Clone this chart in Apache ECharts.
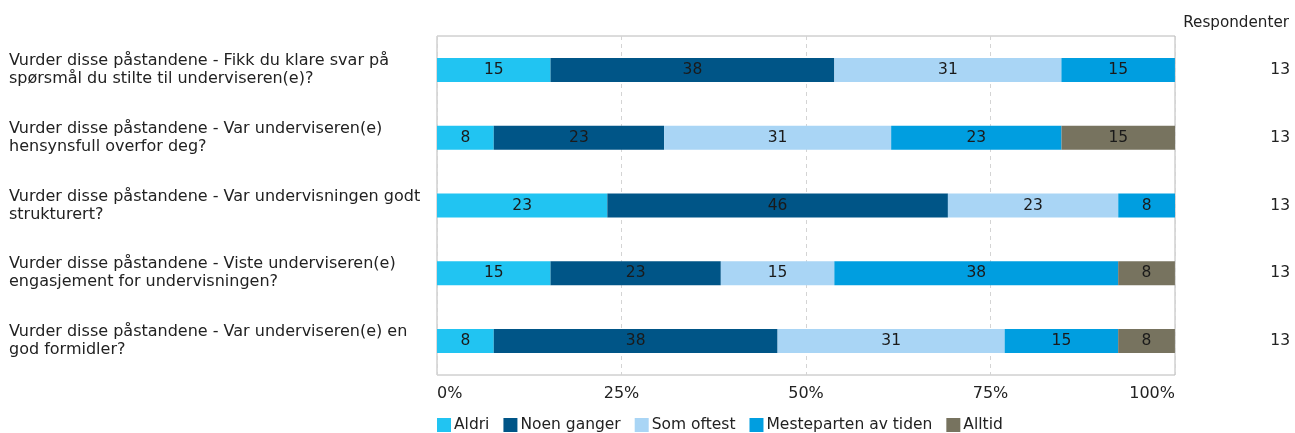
<!DOCTYPE html>
<html><head><meta charset="utf-8">
<script src="https://cdn.jsdelivr.net/npm/echarts@6/dist/echarts.min.js"></script>
<style>html,body{margin:0;padding:0;background:#fff}#c{width:1295px;height:433px}</style>
</head><body><div id="c"></div>
<script>
const categories = [
  "Vurder disse påstandene - Fikk du klare svar på\nspørsmål du stilte til underviseren(e)?",
  "Vurder disse påstandene - Var underviseren(e)\nhensynsfull overfor deg?",
  "Vurder disse påstandene - Var undervisningen godt\nstrukturert?",
  "Vurder disse påstandene - Viste underviseren(e)\nengasjement for undervisningen?",
  "Vurder disse påstandene - Var underviseren(e) en\ngod formidler?"
];
const respondents = [13, 13, 13, 13, 13];
const seriesNames = ["Aldri", "Noen ganger", "Som oftest", "Mesteparten av tiden", "Alltid"];
const aldri       = [15.38, 7.69, 23.08, 15.38, 7.69];
const noenGanger  = [38.46, 23.08, 46.15, 23.08, 38.46];
const somOftest   = [30.77, 30.77, 23.08, 15.38, 30.77];
const mesteparten = [15.38, 23.08, 7.69, 38.46, 15.38];
const alltid      = [null, 15.38, null, 7.69, 7.69];
const xTicks = ["0%", "25%", "50%", "75%", "100%"];

const colors = ["#21c4f2", "#005587", "#a9d5f5", "#009ee0", "#77735f"];
const FONT = "'DejaVu Sans', Verdana, sans-serif";
const values = [aldri, noenGanger, somOftest, mesteparten, alltid];

const chart = echarts.init(document.getElementById('c'), null, {renderer: 'canvas'});
chart.setOption({
  animation: false,
  textStyle: {fontFamily: FONT},
  title: {
    text: "Respondenter", right: 1, top: 11,
    textStyle: {fontFamily: FONT, fontSize: 15.2, fontWeight: 'normal', color: '#222'}
  },
  grid: {left: 437, right: 120, top: 36, bottom: 58, show: true, borderColor: '#b8b8b8', borderWidth: 1},
  legend: {
    left: 437, top: 417, padding: 0, itemWidth: 14, itemHeight: 14, itemGap: 14, icon: 'rect',
    textStyle: {fontFamily: FONT, fontSize: 15.5, color: '#222', padding: [0, 0, 0, -2]},
    data: seriesNames
  },
  xAxis: {
    type: 'value', min: 0, max: 100, interval: 25,
    axisLine: {show: false}, axisTick: {show: false},
    splitLine: {show: true, lineStyle: {type: [4, 4], color: '#d4d4d4'}},
    axisLabel: {
      fontFamily: FONT, fontSize: 16, color: '#222', margin: 11,
      alignMinLabel: 'left', alignMaxLabel: 'right',
      formatter: v => xTicks[Math.round(v / 25)]
    }
  },
  yAxis: [{
    type: 'category', data: categories, inverse: true,
    axisLine: {show: false}, axisTick: {show: false}, splitLine: {show: false},
    axisLabel: {fontFamily: FONT, fontSize: 16, color: '#222', align: 'left', margin: 428, lineHeight: 18}
  }, {
    type: 'category', data: respondents.map(String), inverse: true, position: 'right',
    axisLine: {show: false}, axisTick: {show: false}, splitLine: {show: false},
    axisLabel: {fontFamily: FONT, fontSize: 15.5, color: '#222', align: 'right', margin: 115}
  }],
  series: seriesNames.map((n, i) => ({
    name: n, type: 'bar', stack: 'all', barWidth: 24,
    data: values[i],
    itemStyle: {color: colors[i]},
    label: {
      show: true, position: 'inside', fontFamily: FONT, fontSize: 15.5, color: '#1a1a1a',
      formatter: p => p.value == null ? '' : String(Math.round(p.value))
    }
  }))
});
</script></body></html>
